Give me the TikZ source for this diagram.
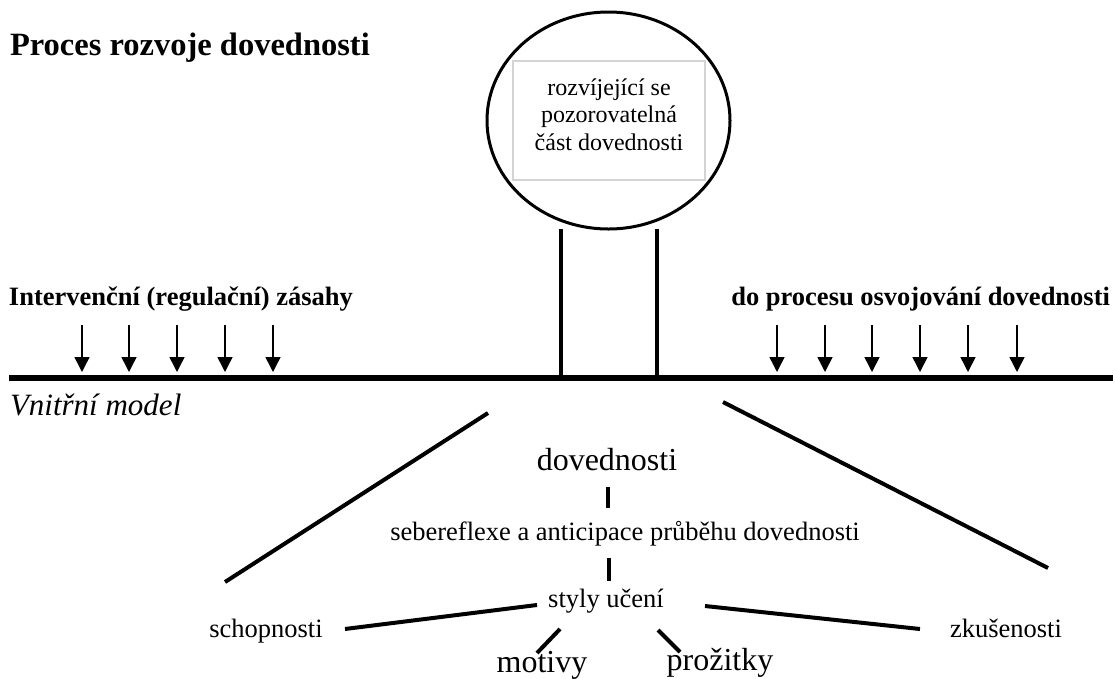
\documentclass[tikz,border=0pt]{standalone}
\usepackage{fontspec}
\setmainfont{Liberation Serif}
\usetikzlibrary{arrows.meta,shapes.geometric}
\definecolor{boxgray}{HTML}{D4D4D4}
\begin{document}
\begin{tikzpicture}[x=1pt,y=-1pt,
  txt/.style={inner sep=0pt, outer sep=0pt},
  titlefont/.style={txt, font=\fontsize{32.5}{38}\selectfont\bfseries},
  headfont/.style={txt, font=\fontsize{26.5}{31}\selectfont\bfseries},
  bodyfont/.style={txt, font=\fontsize{26.5}{31}\selectfont},
  bigfont/.style={txt, font=\fontsize{32}{37}\selectfont},
  modelfont/.style={txt, font=\fontsize{31}{36}\selectfont\itshape},
  thick line/.style={line width=4pt},
  downarrow/.style={line width=1.5pt, -{Triangle[width=15pt,length=15pt]}}
]
\useasboundingbox (0,0) rectangle (1115,678);

% heading texts
\node[titlefont, anchor=base west] (title) at (10,55) {Proces rozvoje dovednosti};
\node[headfont, anchor=base west] (intervence) at (9,305) {Intervenční (regulační) zásahy};
\node[headfont, anchor=base east] (proces) at (1110,305) {do procesu osvojování dovednosti};

% observable part: circle with framed text
\node[ellipse, draw, line width=3pt, minimum width=243pt, minimum height=217pt, inner sep=0pt] (head) at (608.5,120.5) {};
\node[draw=boxgray, line width=1.5pt, minimum width=192pt, minimum height=119pt, inner sep=0pt] (box) at (609,120.5) {};
\node[txt, align=center, font=\fontsize{24}{27.5}\selectfont] (boxtext) at ([yshift=6pt]box.center)
  {rozvíjející se\\pozorovatelná\\část dovednosti};

% the two posts carrying the circle
\coordinate (postl-top) at (561,229);
\coordinate (postl-bot) at (561,375);
\coordinate (postr-top) at (657,229);
\coordinate (postr-bot) at (657,375);
\draw[line width=3.5pt] (postl-top) -- (postl-bot);
\draw[line width=3.5pt] (postr-top) -- (postr-bot);

% base line
\coordinate (base-l) at (9,378);
\coordinate (base-r) at (1113,378);
\draw[line width=6pt] (base-l) -- (base-r);

% intervention arrows
\foreach \x [count=\i] in {82,129,177,225,273} {
  \coordinate (la\i) at (\x,325);
  \coordinate (lb\i) at (\x,372);
  \draw[downarrow] (la\i) -- (lb\i);
}
\foreach \x [count=\i] in {777,825,872,920,968,1017} {
  \coordinate (ra\i) at (\x,325);
  \coordinate (rb\i) at (\x,372);
  \draw[downarrow] (ra\i) -- (rb\i);
}

% inner model
\node[modelfont, anchor=base west] (model) at (10,415) {Vnitřní model};
\node[bigfont, anchor=base] (dov) at (607,470) {dovednosti};
\node[bodyfont, anchor=base] (reflex) at (625,540) {sebereflexe a anticipace průběhu dovednosti};
\node[bodyfont, anchor=base] (styly) at (606,607) {styly učení};
\node[bodyfont, anchor=base] (schop) at (266,637) {schopnosti};
\node[bodyfont, anchor=base] (zkus) at (1006,637) {zkušenosti};
\node[bigfont, anchor=base] (motiv) at (542,672) {motivy};
\node[bigfont, anchor=base] (prozit) at (720,670) {prožitky};

% spreading lines below the base line
\coordinate (dl-top) at (488,413);
\coordinate (dl-bot) at (225,582);
\coordinate (dr-top) at (723,402);
\coordinate (dr-bot) at (1048,568);
\draw[thick line] (dl-top) -- (dl-bot);
\draw[thick line] (dr-top) -- (dr-bot);

% short links in the central column
\coordinate (d1-top) at (608,487);
\coordinate (d1-bot) at (608,508);
\coordinate (d2-top) at (609,558);
\coordinate (d2-bot) at (609,581);
\draw[thick line] (d1-top) -- (d1-bot);
\draw[thick line] (d2-top) -- (d2-bot);

% links around the learning styles
\coordinate (sch-a) at (345,629);
\coordinate (sch-b) at (537,605);
\coordinate (zk-a) at (705,606);
\coordinate (zk-b) at (920,629);
\coordinate (mo-a) at (560,629);
\coordinate (mo-b) at (537,653);
\coordinate (pr-a) at (658,630);
\coordinate (pr-b) at (680,652);
\draw[thick line] (sch-a) -- (sch-b);
\draw[thick line] (zk-a) -- (zk-b);
\draw[thick line] (mo-a) -- (mo-b);
\draw[thick line] (pr-a) -- (pr-b);
\end{tikzpicture}
\end{document}
